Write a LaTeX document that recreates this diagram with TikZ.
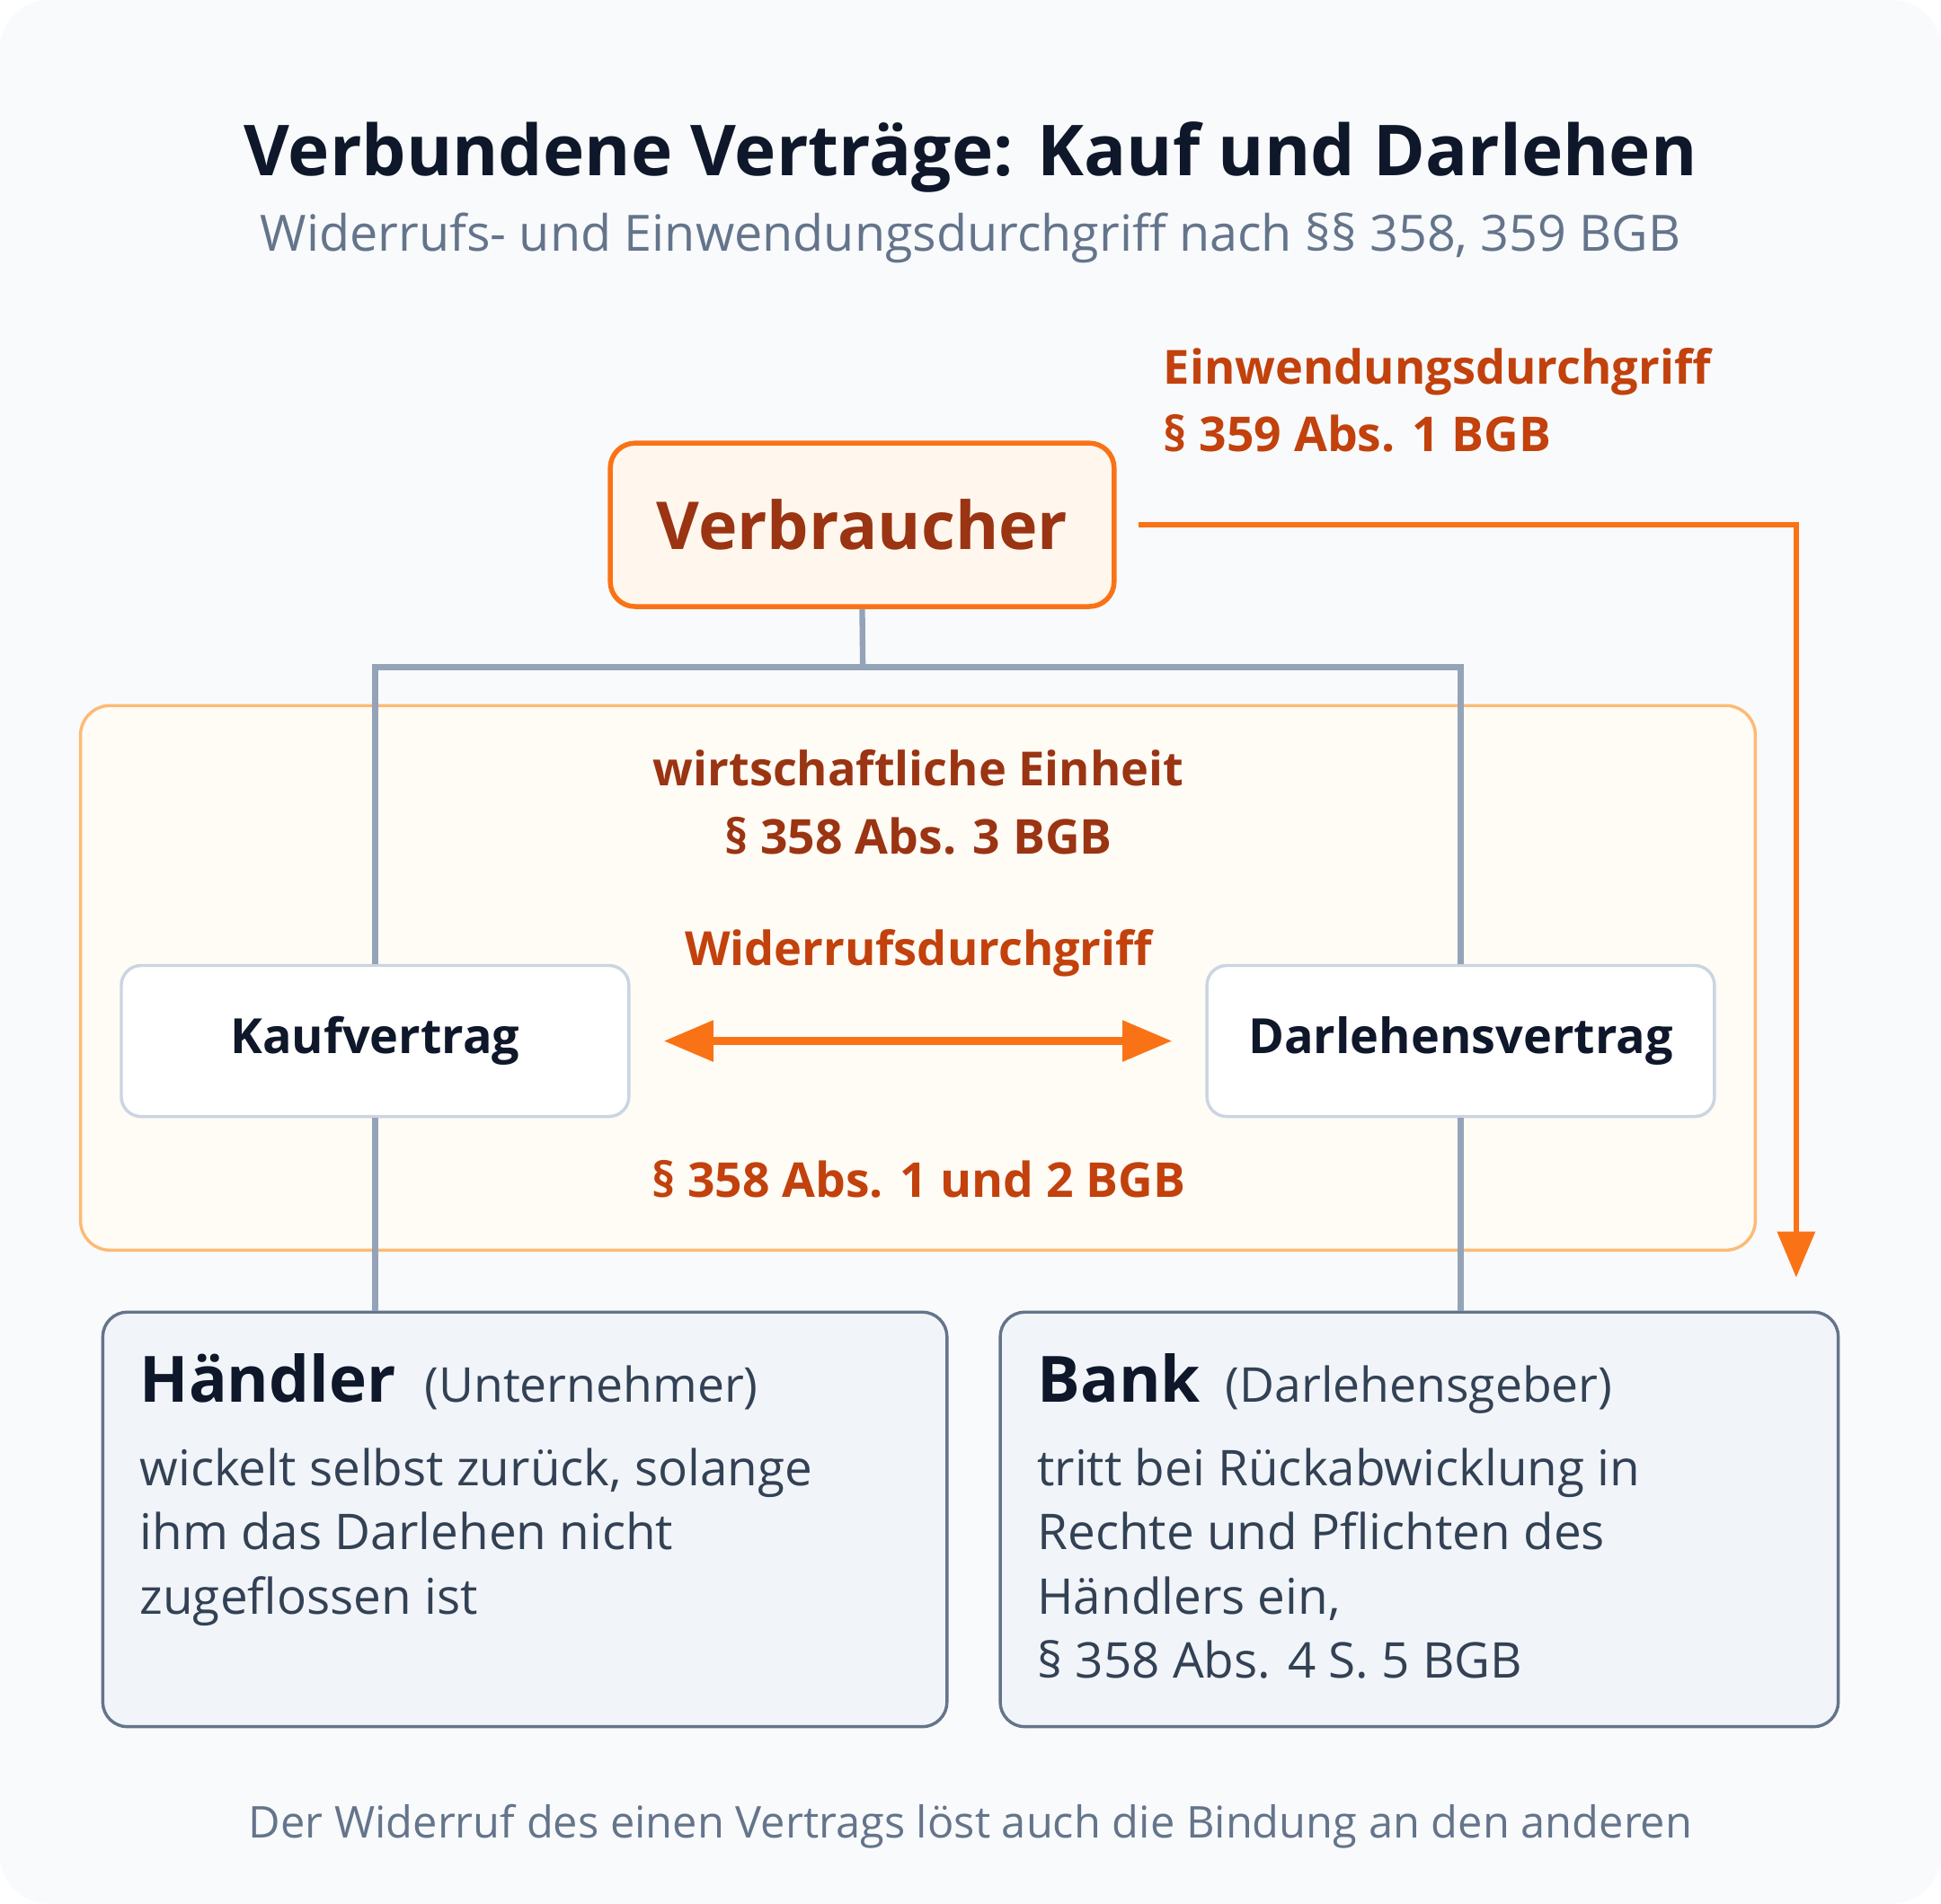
\documentclass[tikz,border=0pt]{standalone}
\usepackage{fontspec}
\setmainfont{Open Sans}
\usetikzlibrary{arrows.meta}
\definecolor{bgc}{HTML}{F8FAFC}
\definecolor{titlec}{HTML}{0F172A}
\definecolor{subc}{HTML}{64748B}
\definecolor{orng}{HTML}{F97316}
\definecolor{orngtext}{HTML}{C2410C}
\definecolor{darkorng}{HTML}{9A3412}
\definecolor{verbfill}{HTML}{FFF7ED}
\definecolor{unitfill}{HTML}{FFFBF5}
\definecolor{unitline}{HTML}{FDBA74}
\definecolor{greyline}{HTML}{94A3B8}
\definecolor{smallline}{HTML}{CBD5E1}
\definecolor{bigfill}{HTML}{F1F5F9}
\definecolor{bigline}{HTML}{64748B}
\definecolor{bodyc}{HTML}{334155}
\newcommand{\fsz}[1]{\fontsize{#1pt}{1.2\dimexpr#1pt\relax}\selectfont}
\tikzset{
  txt/.style={inner sep=0pt, outer sep=0pt},
  verbbox/.style={draw=orng, line width=2pt, fill=verbfill, rounded corners=10pt,
    minimum width=203.5pt, minimum height=66pt, inner sep=0pt},
  unitbox/.style={draw=unitline, line width=1.25pt, fill=unitfill, rounded corners=12pt,
    minimum width=676.5pt, minimum height=220pt, inner sep=0pt},
  smallbox/.style={draw=smallline, line width=1.25pt, fill=white, rounded corners=8pt,
    minimum width=205pt, minimum height=61pt, inner sep=0pt},
  bigbox/.style={draw=bigline, line width=1.25pt, fill=bigfill, rounded corners=10pt,
    minimum height=167.5pt, inner sep=0pt},
  greyconn/.style={draw=greyline, line width=2.3pt},
  orngconn/.style={draw=orng, line width=2pt},
  bodytxt/.style={txt, anchor=base west, text=bodyc, font=\fsz{19.9}},
}
\begin{document}
\begin{tikzpicture}[x=0.5pt,y=-0.5pt]
\useasboundingbox (0,0) rectangle (1568,1538);
\fill[white] (0,0) rectangle (1568,1538);
\fill[bgc, rounded corners=20pt] (0,0) rectangle (1568,1538);

% title
\node[txt, anchor=base, text=titlec, font=\bfseries\fsz{28.4}] (title) at (784,142) {Verbundene Verträge: Kauf und Darlehen};
\node[txt, anchor=base, text=subc, font=\fsz{20.2}] (subtitle) at (784,203) {Widerrufs- und Einwendungsdurchgriff nach §§ 358, 359 BGB};

% unit box
\node[unitbox] (unit) at (741.5,790) {};

% Verbraucher
\node[verbbox, text=darkorng, font=\bfseries\fsz{26.7}] (verb) at (696.5,424) {Verbraucher};

% contracts
\node[smallbox, text=titlec, font=\bfseries\fsz{19.6}] (kauf) at (303,841) {Kaufvertrag};
\node[smallbox, text=titlec, font=\bfseries\fsz{19.6}] (darl) at (1180,841) {Darlehensvertrag};

% parties
\node[bigbox, minimum width=341pt] (haend) at (424,1227.5) {};
\node[bigbox, minimum width=338.5pt] (bank) at (1146.5,1227.5) {};

% grey connectors
\coordinate (junc) at (697,539);
\draw[greyconn] (verb.south) -- (junc);
\draw[greyconn] (kauf.north) |- (junc) -| (darl.north);
\draw[greyconn] (kauf.south) -- (kauf.south |- haend.north);
\draw[greyconn] (darl.south) -- (darl.south |- bank.north);

% unit texts
\node[txt, anchor=base, text=darkorng, font=\bfseries\fsz{19}] (we1) at (742,635) {wirtschaftliche Einheit};
\node[txt, anchor=base, text=darkorng, font=\bfseries\fsz{19.4}] (we2) at (742,690) {§ 358 Abs. 3 BGB};
\node[txt, anchor=base, text=orngtext, font=\bfseries\fsz{19}] (wd) at (742,780) {Widerrufsdurchgriff};
\node[txt, anchor=base, text=orngtext, font=\bfseries\fsz{19.4}] (wdp) at (742,967) {§ 358 Abs. 1 und 2 BGB};

% double arrow
\draw[draw=orng, line width=3pt, {Triangle[length=20pt,width=16pt]}-{Triangle[length=20pt,width=16pt]},
  shorten <=13.5pt, shorten >=13.5pt] (kauf.east) -- (darl.west);

% Einwendungsdurchgriff
\node[txt, anchor=base west, text=orngtext, font=\bfseries\fsz{19}] (ew1) at (940,310) {Einwendungsdurchgriff};
\node[txt, anchor=base west, text=orngtext, font=\bfseries\fsz{19.4}] (ew2) at (940,365) {§ 359 Abs. 1 BGB};
\coordinate (ewend) at (1451,1032);
\draw[orngconn, -{Triangle[length=18.5pt,width=15pt]}, shorten <=9pt] (verb.east) -| (ewend);

% Händler text
\node[txt, anchor=base west, text=titlec, font=\bfseries\fsz{25.8}] (ht) at (113,1133) {Händler};
\node[txt, anchor=base west, text=bodyc, font=\fsz{19.4}] (hs) at (343,1133) {(Unternehmer)};
\node[bodytxt] (h1) at (113,1200) {wickelt selbst zurück, solange};
\node[bodytxt] (h2) at (113,1252) {ihm das Darlehen nicht};
\node[bodytxt] (h3) at (113,1304) {zugeflossen ist};

% Bank text
\node[txt, anchor=base west, text=titlec, font=\bfseries\fsz{25.8}] (bt) at (838,1133) {Bank};
\node[txt, anchor=base west, text=bodyc, font=\fsz{19.4}] (bs) at (990,1133) {(Darlehensgeber)};
\node[bodytxt] (b1) at (838,1200) {tritt bei Rückabwicklung in};
\node[bodytxt] (b2) at (838,1252) {Rechte und Pflichten des};
\node[bodytxt] (b3) at (838,1304) {Händlers ein,};
\node[bodytxt] (b4) at (838,1356) {§ 358 Abs. 4 S. 5 BGB};

% footer
\node[txt, anchor=base, text=subc, font=\fsz{17.7}] (foot) at (784,1485) {Der Widerruf des einen Vertrags löst auch die Bindung an den anderen};
\end{tikzpicture}
\end{document}
